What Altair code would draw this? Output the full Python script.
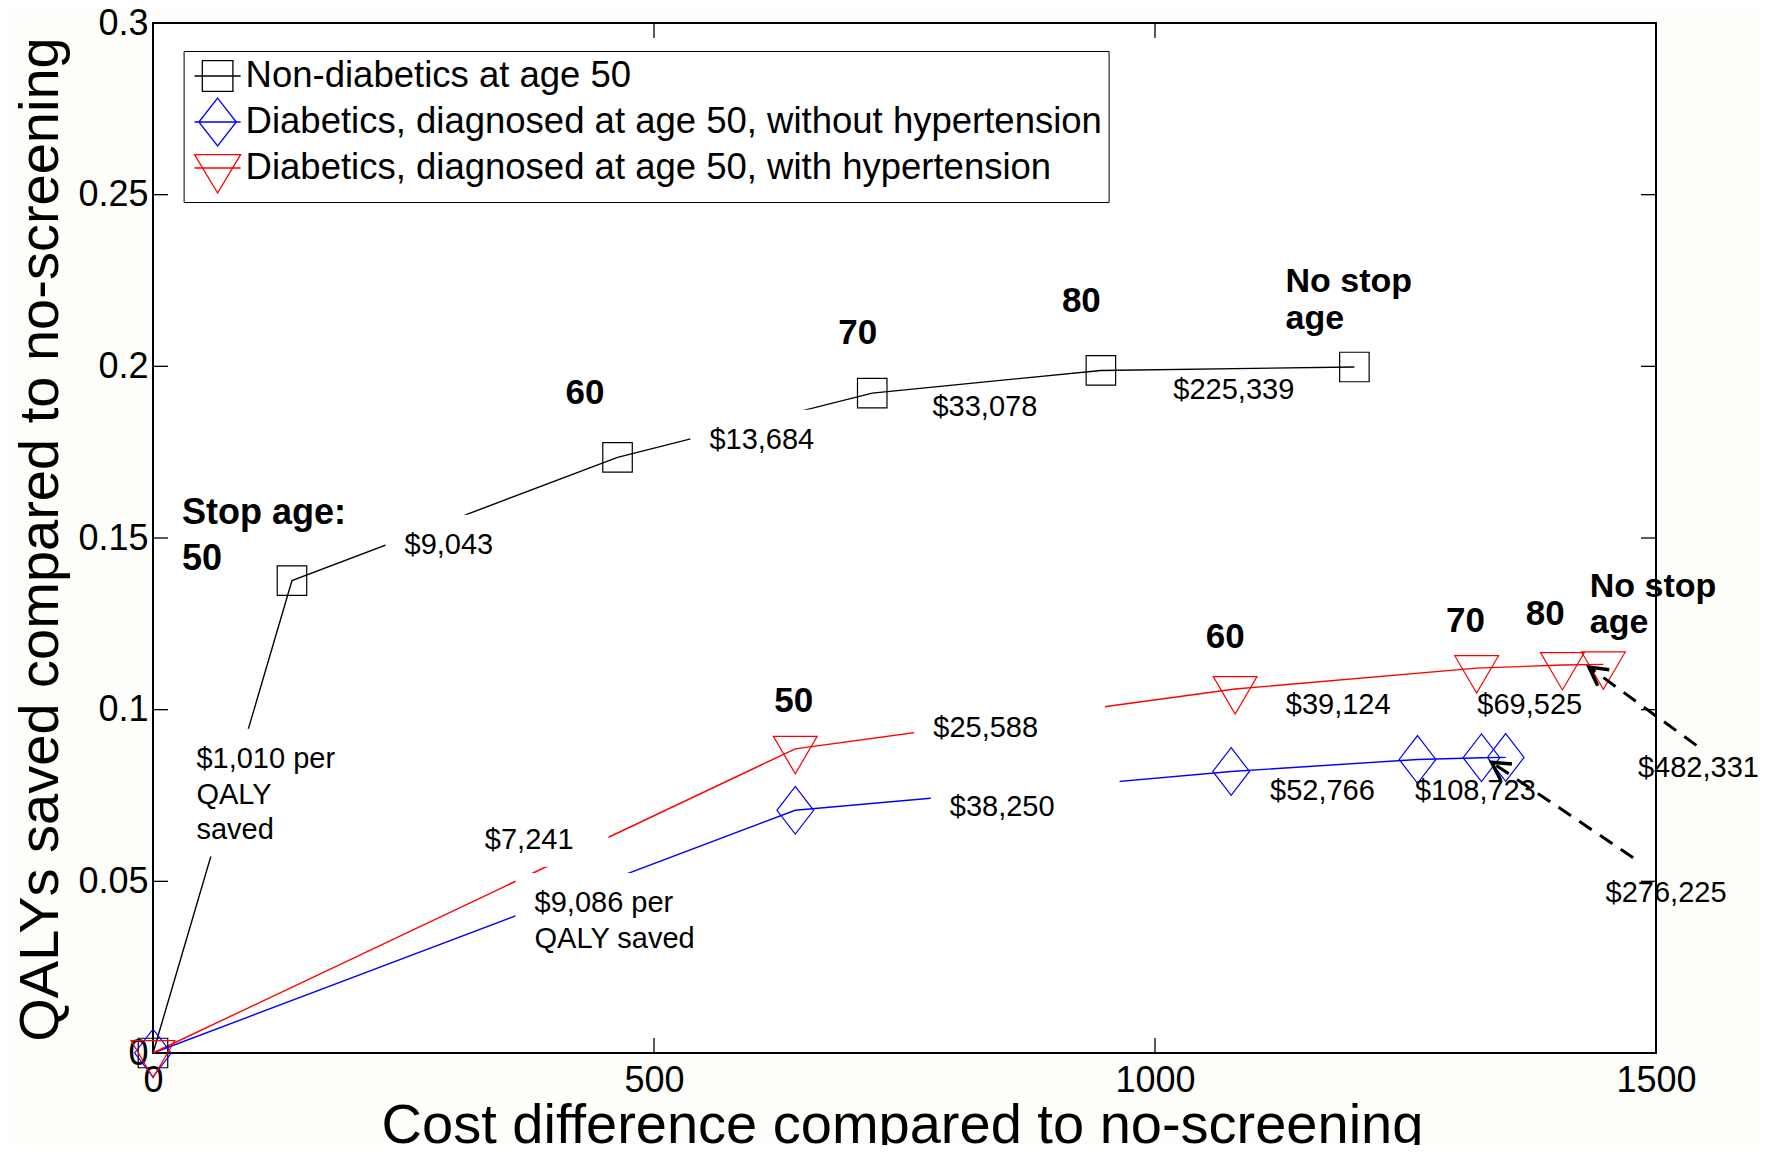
import math
import altair as alt
import pandas as pd

W, H = 1503, 1030
X_MAX, Y_MAX = 1500, 0.3
FONT = "Liberation Sans"

# ---------------- data ----------------
series_names = [
    "Non-diabetics at age 50",
    "Diabetics, diagnosed at age 50, without hypertension",
    "Diabetics, diagnosed at age 50, with hypertension",
]
series_colors = ["#000000", "#0000ff", "#ff0000"]

nd_cost = [0, 138.7, 463.6, 717.8, 946.0, 1199.0]
nd_qaly = [0, 0.1376, 0.1735, 0.1922, 0.1988, 0.1998]
dn_cost = [0, 641.0, 1076.0, 1262.0, 1325.8, 1350.0]
dn_qaly = [0, 0.0707, 0.0820, 0.0855, 0.0860, 0.0861]
dh_cost = [0, 641.0, 1080.0, 1321.0, 1406.6, 1447.5]
dh_qaly = [0, 0.0886, 0.1060, 0.1121, 0.1130, 0.1132]

x_ticks = [0, 500, 1000, 1500]
y_ticks = [0, 0.05, 0.1, 0.15, 0.2, 0.25, 0.3]

icer_text = ["$1,010 per\nQALY\nsaved", "$9,043", "$13,684", "$33,078", "$225,339",
             "$7,241", "$9,086 per\nQALY saved", "$25,588", "$39,124", "$69,525",
             "$482,331", "$38,250", "$52,766", "$108,723", "$276,225"]
icer_x = [43.3, 251.0, 555.3, 777.9, 1018.3, 331.2, 380.8, 778.7, 1130.5, 1321.7,
          1482.0, 795.2, 1114.8, 1259.4, 1449.7]
icer_y = [0.0860, 0.1483, 0.1789, 0.1886, 0.1936, 0.0624, 0.0440, 0.0950, 0.1018, 0.1018,
          0.0833, 0.0720, 0.0766, 0.0766, 0.0469]
icer_boxed = [True, True, True, False, False, True, True, True, False, False,
              False, True, False, False, False]
icer_box_pad_right = [18, 18, 18, 0, 0, 35, 18, 67, 0, 0, 0, 65, 0, 0, 0]

age_text = ["60", "70", "80", "50", "60", "70", "80"]
age_x = [431.2, 703.3, 926.5, 639.5, 1070.1, 1309.8, 1389.4]
age_y = [0.1926, 0.2102, 0.2194, 0.1029, 0.1216, 0.1262, 0.1282]

stop_text = ["Stop age:\n50"]
stop_x = [29.0]
stop_y = [0.1575]

nostop_text = ["No stop\nage", "No stop\nage"]
nostop_x = [1130.3, 1433.9]
nostop_y = [0.2250, 0.1364]

arrow_from_x = [1540.3, 1477.2]
arrow_from_y = [0.0896, 0.0569]
arrow_to_x = [1433.1, 1335.8]
arrow_to_y = [0.1124, 0.0847]

# ---------------- styles ----------------
MARK_SQUARE = "M-1,-1L1,-1L1,1L-1,1Z"
MARK_DIAMOND = "M0,-1.3L1,0L0,1.3L-1,0Z"
MARK_TRIANGLE = "M-1,-0.567L1,-0.567L0,1.137Z"
marker_shapes = [MARK_SQUARE, MARK_DIAMOND, MARK_TRIANGLE]
marker_sizes = [870, 1347, 1918]

LEG_SQUARE = "M-1.28,0L1.28,0M-0.85,-0.85L0.85,-0.85L0.85,0.85L-0.85,0.85Z"
LEG_DIAMOND = "M-1.28,0L1.28,0M0,-1.33L1.04,0L0,1.33L-1.04,0Z"
LEG_TRIANGLE = "M-1.28,0L1.28,0M-1.28,-0.74L1.28,-0.74L0,1.39Z"
legend_shapes = [LEG_SQUARE, LEG_DIAMOND, LEG_TRIANGLE]

ARROW_HEAD = "M-0.55,1L0,0L0.55,1"

pxx = W / X_MAX
pxy = H / Y_MAX

xs = alt.Scale(domain=[0, X_MAX], nice=False, zero=False)
ys = alt.Scale(domain=[0, Y_MAX], nice=False, zero=False)

xaxis = alt.Axis(values=x_ticks, format="d", title="Cost difference compared to no-screening",
                 titleFont=FONT, titleFontSize=56, titleFontWeight="normal", titleColor="black",
                 titleX=749, titleY=89, titleAlign="center", titleBaseline="alphabetic",
                 titleLimit=3000,
                 labelFont=FONT, labelFontSize=36, labelColor="black", labelPadding=10,
                 labelFlush=False, labelOverlap=False, ticks=False, domain=False, grid=False)
yaxis = alt.Axis(values=y_ticks, format="~g", title="QALYs saved compared to no-screening",
                 titleFont=FONT, titleFontSize=56, titleFontWeight="normal", titleColor="black",
                 titleX=-96, titleY=516, titleAngle=270, titleAlign="center",
                 titleBaseline="alphabetic", titleLimit=3000,
                 labelFont=FONT, labelFontSize=36, labelColor="black", labelPadding=5,
                 labelFlush=False, labelOverlap=False, ticks=False, domain=False, grid=False)


def X(f):
    return alt.X(f, type="quantitative", scale=xs, axis=xaxis)


def Y(f):
    return alt.Y(f, type="quantitative", scale=ys, axis=yaxis)


# ---------------- frames ----------------
series_frames = [
    pd.DataFrame({"x": c, "y": q, "series": n})
    for c, q, n in zip([nd_cost, dn_cost, dh_cost], [nd_qaly, dn_qaly, dh_qaly], series_names)
]

CW = {"$": .556, ",": .278, ".": .278, " ": .278, "p": .556, "e": .556, "r": .333,
      "Q": .778, "A": .667, "L": .556, "Y": .667, "s": .5, "a": .556, "v": .5, "d": .556}
ICER_FS = 29
ICER_LH = 35.4


def text_w(s, fs):
    return max(sum(CW.get(ch, .556) for ch in line) for line in s.split("\n")) * fs


box_rows = []
for t, x, y, b, pr in zip(icer_text, icer_x, icer_y, icer_boxed, icer_box_pad_right):
    if not b:
        continue
    n = len(t.split("\n"))
    box_rows.append({
        "bx0": x - 19 / pxx,
        "bx1": x + (text_w(t, ICER_FS) + pr) / pxx,
        "by0": y + 29 / pxy,
        "by1": y - ((n - 1) * ICER_LH + 28) / pxy,
    })
boxes = pd.DataFrame(box_rows)

icer_df = pd.DataFrame({"x": icer_x, "y": icer_y, "label": icer_text})
age_df = pd.DataFrame({"x": age_x, "y": age_y, "label": age_text})
stop_df = pd.DataFrame({"x": stop_x, "y": stop_y, "label": stop_text})
nostop_df = pd.DataFrame({"x": nostop_x, "y": nostop_y, "label": nostop_text})

arrow_df = pd.DataFrame({"x": arrow_from_x, "y": arrow_from_y,
                         "x2": arrow_to_x, "y2": arrow_to_y})
angles = []
for fx, fy, tx, ty in zip(arrow_from_x, arrow_from_y, arrow_to_x, arrow_to_y):
    dx = (tx - fx) * pxx
    dy = -(ty - fy) * pxy
    angles.append(math.degrees(math.atan2(dx, -dy)) % 360)
head_df = pd.DataFrame({"x": arrow_to_x, "y": arrow_to_y, "ang": angles})

xt_df = pd.DataFrame({"x": x_ticks})
yt_df = pd.DataFrame({"y": y_ticks})

# ---------------- layers ----------------
layers = []
TICK = 15
layers.append(alt.Chart(xt_df).mark_rule(color="black", strokeWidth=1.3).encode(
    x=X("x"), y=alt.value(H), y2=alt.value(H - TICK)))
layers.append(alt.Chart(xt_df).mark_rule(color="black", strokeWidth=1.3).encode(
    x=X("x"), y=alt.value(0), y2=alt.value(TICK)))
layers.append(alt.Chart(yt_df).mark_rule(color="black", strokeWidth=1.3).encode(
    y=Y("y"), x=alt.value(0), x2=alt.value(TICK)))
layers.append(alt.Chart(yt_df).mark_rule(color="black", strokeWidth=1.3).encode(
    y=Y("y"), x=alt.value(W), x2=alt.value(W - TICK)))

for df, col in zip(series_frames, series_colors):
    layers.append(alt.Chart(df).mark_line(color=col, strokeWidth=1.4).encode(
        x=X("x"), y=Y("y")))

layers.append(alt.Chart(boxes).mark_rect(color="white", opacity=1).encode(
    x=X("bx0"), x2=alt.X2("bx1"), y=Y("by0"), y2=alt.Y2("by1")))

for df, col, shp, sz in zip(series_frames, series_colors, marker_shapes, marker_sizes):
    layers.append(alt.Chart(df).mark_point(shape=shp, size=sz, filled=False, color=col,
                                           strokeWidth=1.2, opacity=1).encode(
        x=X("x"), y=Y("y")))

layers.append(alt.Chart(arrow_df).mark_rule(color="black", strokeWidth=3,
                                            strokeDash=[15, 10]).encode(
    x=X("x"), y=Y("y"), x2=alt.X2("x2"), y2=alt.Y2("y2")))
layers.append(alt.Chart(head_df).mark_point(shape=ARROW_HEAD, size=1296, filled=False,
                                            color="black", strokeWidth=3.5, opacity=1).encode(
    x=X("x"), y=Y("y"), angle=alt.Angle("ang:Q", scale=None)))

layers.append(alt.Chart(icer_df).mark_text(font=FONT, fontSize=ICER_FS, align="left",
                                           baseline="top", yOffset=-12.6, lineBreak="\n",
                                           lineHeight=ICER_LH, color="black").encode(
    x=X("x"), y=Y("y"), text="label:N"))
layers.append(alt.Chart(age_df).mark_text(font=FONT, fontSize=35, fontWeight="bold",
                                          align="center", baseline="top", yOffset=-15.5,
                                          color="black").encode(
    x=X("x"), y=Y("y"), text="label:N"))
layers.append(alt.Chart(stop_df).mark_text(font=FONT, fontSize=36, fontWeight="bold",
                                           align="left", baseline="top", yOffset=-15.9,
                                           lineBreak="\n", lineHeight=46,
                                           color="black").encode(
    x=X("x"), y=Y("y"), text="label:N"))
layers.append(alt.Chart(nostop_df).mark_text(font=FONT, fontSize=34, fontWeight="bold",
                                             align="left", baseline="top", yOffset=-15.1,
                                             lineBreak="\n", lineHeight=36.5,
                                             color="black").encode(
    x=X("x"), y=Y("y"), text="label:N"))

leg = alt.Legend(orient="none", legendX=30.6, legendY=28, title=None,
                 strokeColor="black", fillColor="white", padding=6,
                 symbolSize=1296, symbolStrokeWidth=1.3, symbolOffset=9,
                 labelOffset=9, rowPadding=0,
                 labelFont=FONT, labelFontSize=36.5, labelColor="black", labelLimit=3000)
legend_df = pd.concat(series_frames, ignore_index=True)
layers.append(alt.Chart(legend_df).transform_filter("datum.x < 0").mark_point(
    filled=False, opacity=1, strokeWidth=1.3).encode(
    x=X("x"), y=Y("y"),
    color=alt.Color("series:N", scale=alt.Scale(domain=series_names, range=series_colors),
                    legend=leg),
    shape=alt.Shape("series:N", scale=alt.Scale(domain=series_names, range=legend_shapes),
                    legend=leg),
))

chart = alt.layer(*layers).properties(
    width=W, height=H,
    autosize=alt.AutoSizeParams(type="none"),
    padding={"left": 145, "top": 15, "right": 105, "bottom": 92},
    background="#fdfdf9",
).configure_view(stroke="black", strokeWidth=2, fill="white")

chart.save("out.html", embed_options={"renderer": "svg", "actions": False})
